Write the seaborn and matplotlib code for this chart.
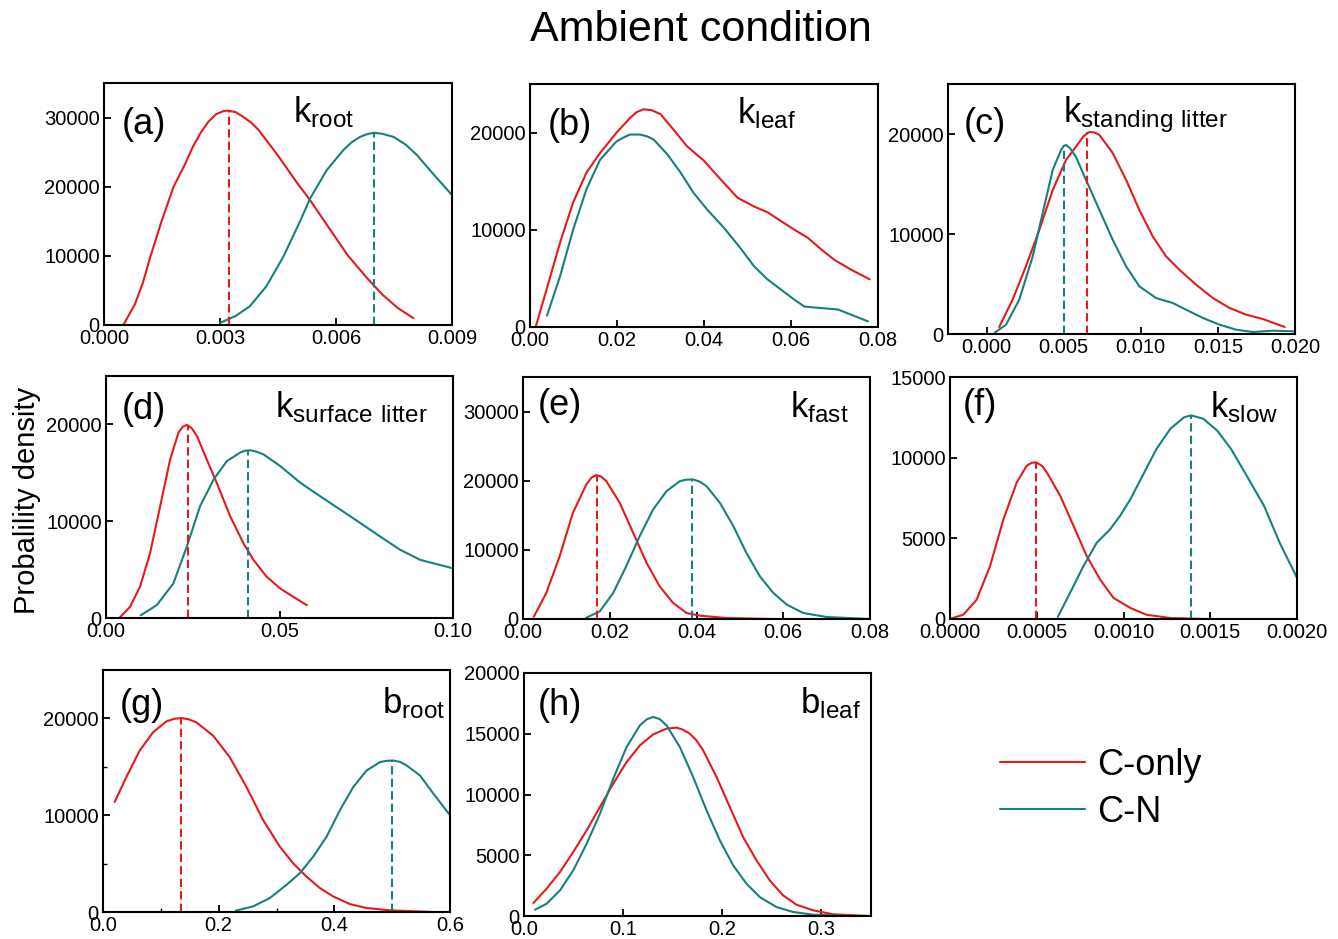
import numpy as np
import pandas as pd
import matplotlib
matplotlib.use('Agg')
import matplotlib.pyplot as plt
from matplotlib.ticker import FixedLocator, StrMethodFormatter
import seaborn as sns

# Curves: C-only (red) and C-N (teal)
a_conly_x = [0.0005, 0.0007, 0.0008, 0.0010, 0.0012, 0.0015, 0.0018, 0.0021, 0.0023, 0.0025, 0.0027,
             0.0029, 0.0031, 0.0032, 0.0034, 0.0036, 0.0038, 0.0040, 0.0045, 0.0050, 0.0053, 0.0058,
             0.0063, 0.0068, 0.0072, 0.0076, 0.0080]
a_conly_y = [0, 2000, 3000, 6000, 9900, 15200, 20000, 23300, 25800, 27800, 29400,
             30500, 30950, 31000, 30800, 30100, 29300, 28200, 24500, 20500, 18300, 14200,
             10100, 6800, 4400, 2450, 1000]
a_cn_x = [0.0030, 0.0034, 0.00377, 0.0042, 0.00464, 0.00507, 0.00533, 0.00576, 0.00619, 0.0064,
          0.00662, 0.0068, 0.00699, 0.0072, 0.00749, 0.0078, 0.00809, 0.00852, 0.0090]
a_cn_y = [300, 1300, 2700, 5600, 9900, 15000, 18300, 22400, 25300, 26400,
          27200, 27600, 27800, 27650, 27200, 26100, 24600, 21800, 18800]

b_conly_x = [0.0013, 0.0038, 0.0069, 0.0099, 0.0130, 0.0161, 0.0199, 0.0230, 0.0245, 0.0261, 0.0280,
             0.0300, 0.0330, 0.0361, 0.0400, 0.0438, 0.0477, 0.0515, 0.0546, 0.0577, 0.0608, 0.0638,
             0.0669, 0.0700, 0.0738, 0.0781]
b_conly_y = [0, 3850, 8660, 12800, 15900, 17900, 20000, 21500, 22100, 22400, 22300,
             21900, 20300, 18600, 17100, 15200, 13300, 12400, 11800, 10900, 10000, 9200,
             8000, 6900, 5900, 4900]
b_cn_x = [0.0039, 0.0069, 0.0099, 0.0130, 0.0161, 0.0199, 0.0215, 0.0230, 0.0253, 0.0270, 0.0284,
          0.0315, 0.0346, 0.0376, 0.0407, 0.0446, 0.0484, 0.0515, 0.0546, 0.0577, 0.0608, 0.0631,
          0.0669, 0.0708, 0.0738, 0.0777]
b_cn_y = [1170, 5200, 10000, 14200, 17200, 19100, 19500, 19800, 19800, 19600, 19300,
          17800, 15900, 13800, 12100, 10200, 8100, 6250, 4900, 3850, 2800, 2100,
          1950, 1800, 1270, 580]

c_conly_x = [0.00082, 0.00169, 0.00255, 0.00342, 0.00429, 0.00515, 0.00602, 0.0063, 0.00667, 0.0070,
             0.00732, 0.00818, 0.00905, 0.00991, 0.01078, 0.01165, 0.01251, 0.01359, 0.01468, 0.01576,
             0.01684, 0.01792, 0.01933]
c_conly_y = [700, 3430, 6760, 10400, 14400, 17400, 19200, 19800, 20200, 20150,
             19900, 18100, 15400, 12400, 9750, 7750, 6420, 4930, 3590, 2600,
             1930, 1500, 700]
c_cn_x = [0.0005, 0.00126, 0.00212, 0.00299, 0.00364, 0.00429, 0.00483, 0.0050, 0.00515, 0.0054,
          0.0058, 0.00645, 0.00732, 0.00818, 0.00905, 0.00991, 0.0110, 0.01208, 0.01294, 0.01403,
          0.01511, 0.01619, 0.01727, 0.01857, 0.0200]
c_cn_y = [100, 930, 3430, 7750, 12100, 16400, 18400, 18800, 18900, 18600,
          17700, 15400, 12400, 9420, 6760, 4760, 3590, 3100, 2430, 1600,
          930, 430, 200, 330, 270]

d_conly_x = [0.00385, 0.0069, 0.0098, 0.0127, 0.0156, 0.0185, 0.0209, 0.0221, 0.0233, 0.0247, 0.0262,
             0.0290, 0.0319, 0.0358, 0.0396, 0.0425, 0.0463, 0.0502, 0.0540, 0.0579]
d_conly_y = [0, 1140, 3220, 6690, 11540, 16400, 19170, 19750, 19960, 19600, 18820,
             16400, 13970, 10500, 7730, 6000, 4260, 3050, 2180, 1320]
d_cn_x = [0.0100, 0.0146, 0.0194, 0.0233, 0.0271, 0.0310, 0.0348, 0.0387, 0.0400, 0.0415, 0.0432,
          0.0454, 0.0502, 0.0560, 0.0617, 0.0675, 0.0733, 0.0790, 0.0848, 0.0906, 0.1000]
d_cn_y = [280, 1320, 3570, 7380, 11540, 14300, 16200, 17100, 17280, 17330, 17200,
          16900, 15700, 13970, 12580, 11200, 9810, 8420, 7040, 6000, 5130]

e_conly_x = [0.00246, 0.00538, 0.00846, 0.0115, 0.0146, 0.0158, 0.0169, 0.0180, 0.0192, 0.0223,
             0.0254, 0.0285, 0.0315, 0.0346, 0.0377, 0.0408, 0.0469, 0.0577]
e_conly_y = [290, 3770, 9080, 15360, 19460, 20450, 20820, 20600, 19950, 16800,
             12460, 8110, 4730, 2320, 870, 480, 140, 0]
e_cn_x = [0.01446, 0.0177, 0.0208, 0.0238, 0.0269, 0.0300, 0.0331, 0.0362, 0.0377, 0.0392, 0.0408,
          0.0423, 0.0454, 0.0485, 0.0515, 0.0546, 0.0577, 0.0608, 0.0646, 0.0700, 0.0800]
e_cn_y = [140, 1110, 3770, 7630, 11980, 15840, 18500, 19950, 20150, 20190, 19850,
          19220, 16800, 13430, 9560, 6180, 3770, 2080, 870, 290, 0]

f_conly_x = [0.00001, 0.000077, 0.000154, 0.000231, 0.000308, 0.000385, 0.000442, 0.00047, 0.000496,
             0.00053, 0.000558, 0.000635, 0.000712, 0.000788, 0.000865, 0.000942, 0.00104, 0.00113,
             0.00127, 0.00147]
f_conly_y = [40, 270, 1200, 3280, 6180, 8470, 9500, 9680, 9710,
             9500, 9090, 7640, 5770, 3900, 2450, 1310, 680, 270,
             60, 0]
f_cn_x = [0.000621, 0.000692, 0.000769, 0.000846, 0.000923, 0.00098, 0.00104, 0.00112, 0.00119,
          0.00127, 0.00135, 0.00139, 0.00146, 0.00154, 0.00162, 0.00171, 0.00181, 0.0019, 0.0020]
f_cn_y = [120, 1620, 3280, 4730, 5560, 6390, 7430, 9090, 10540,
          11790, 12510, 12620, 12410, 11680, 10540, 8880, 7010, 4730, 2550]

g_conly_x = [0.0202, 0.0404, 0.0635, 0.0865, 0.1096, 0.1226, 0.1356, 0.1485, 0.1615, 0.1904, 0.2192,
             0.2481, 0.2769, 0.3058, 0.3288, 0.3519, 0.375, 0.398, 0.4269, 0.4558, 0.4962, 0.5712]
g_conly_y = [11370, 13940, 16680, 18560, 19690, 19950, 20040, 19900, 19590, 18220, 15990,
             12910, 9490, 6750, 5030, 3660, 2470, 1610, 820, 410, 170, 0]
g_cn_x = [0.2296, 0.2596, 0.2885, 0.3173, 0.3404, 0.3635, 0.3865, 0.4096, 0.4327, 0.4558, 0.4788,
          0.4900, 0.5019, 0.5140, 0.525, 0.548, 0.5712, 0.6]
g_cn_y = [140, 580, 1440, 2810, 4010, 5720, 7770, 10510, 12910, 14620, 15480,
          15620, 15650, 15500, 15140, 14110, 12230, 10000]

h_conly_x = [0.0094, 0.0228, 0.0363, 0.0497, 0.0632, 0.0766, 0.0900, 0.1035, 0.1169, 0.1303, 0.1438,
             0.1538, 0.1600, 0.1673, 0.1740, 0.1807, 0.1942, 0.2076, 0.2210, 0.2345, 0.2479, 0.2613,
             0.2748, 0.2916, 0.3117, 0.3487]
h_conly_y = [1070, 2250, 3620, 5270, 7050, 8970, 10890, 12670, 14040, 14950, 15420,
             15500, 15350, 15000, 14450, 13630, 11440, 8970, 6500, 4580, 2930, 1700,
             930, 470, 140, 0]
h_cn_x = [0.0111, 0.0228, 0.0363, 0.0497, 0.0632, 0.0766, 0.0900, 0.1035, 0.1169, 0.1240, 0.1303,
          0.1370, 0.1438, 0.1572, 0.1706, 0.1841, 0.1975, 0.2110, 0.2244, 0.2378, 0.2546, 0.2714,
          0.2916, 0.3252]
h_cn_y = [520, 1010, 2110, 3760, 5950, 8420, 11300, 13910, 15690, 16200, 16380,
          16200, 15690, 13910, 11440, 8700, 6230, 4170, 2660, 1560, 740, 330,
          110, 0]

# modes marked with dashed lines (x, peak height); None = no marker
mode_conly = [(0.00324, 31000), None, (0.0065, 20200), (0.0236, 19960), (0.0171, 20820),
              (0.000496, 9710), (0.1356, 20040), None]
mode_cn = [(0.00699, 27800), None, (0.0050, 18900), (0.0410, 17330), (0.0390, 20190),
           (0.00139, 12620), (0.499, 15650), None]

panel_tags = ['(a)', '(b)', '(c)', '(d)', '(e)', '(f)', '(g)', '(h)']
param_names = [r'$\mathregular{k_{root}}$', r'$\mathregular{k_{leaf}}$',
               r'$\mathregular{k_{standing\ litter}}$', r'$\mathregular{k_{surface\ litter}}$',
               r'$\mathregular{k_{fast}}$', r'$\mathregular{k_{slow}}$',
               r'$\mathregular{b_{root}}$', r'$\mathregular{b_{leaf}}$']
series_names = ['C-only', 'C-N']

curves = [
    (a_conly_x, a_conly_y, a_cn_x, a_cn_y),
    (b_conly_x, b_conly_y, b_cn_x, b_cn_y),
    (c_conly_x, c_conly_y, c_cn_x, c_cn_y),
    (d_conly_x, d_conly_y, d_cn_x, d_cn_y),
    (e_conly_x, e_conly_y, e_cn_x, e_cn_y),
    (f_conly_x, f_conly_y, f_cn_x, f_cn_y),
    (g_conly_x, g_conly_y, g_cn_x, g_cn_y),
    (h_conly_x, h_conly_y, h_cn_x, h_cn_y),
]

# axis settings per panel
xlims = [(0, 0.009), (0, 0.08), (-0.0025, 0.020), (0, 0.1), (0, 0.08), (0, 0.002), (0, 0.6), (0, 0.35)]
xticks = [[0, 0.003, 0.006, 0.009], [0, 0.02, 0.04, 0.06, 0.08], [0, 0.005, 0.01, 0.015, 0.02],
          [0, 0.05, 0.1], [0, 0.02, 0.04, 0.06, 0.08], [0, 0.0005, 0.001, 0.0015, 0.002],
          [0, 0.2, 0.4, 0.6], [0, 0.1, 0.2, 0.3]]
xfmts = ['{x:.3f}', '{x:.2f}', '{x:.3f}', '{x:.2f}', '{x:.2f}', '{x:.4f}', '{x:.1f}', '{x:.1f}']
ylims = [35000, 25000, 25000, 25000, 35000, 15000, 25000, 20000]
yticks = [[0, 10000, 20000, 30000], [0, 10000, 20000], [0, 10000, 20000], [0, 10000, 20000],
          [0, 10000, 20000, 30000], [0, 5000, 10000, 15000], [0, 10000, 20000],
          [0, 5000, 10000, 15000, 20000]]

sns.set_theme(style='ticks')
plt.rcParams['font.family'] = ['Liberation Sans', 'DejaVu Sans']
plt.rcParams['mathtext.fontset'] = 'custom'
plt.rcParams['mathtext.rm'] = 'Liberation Sans'
for key in ['text.color', 'axes.labelcolor', 'xtick.color', 'ytick.color', 'axes.edgecolor']:
    plt.rcParams[key] = 'black'

RED = '#e41a1c'
TEAL = '#17807d'

W, H = 1338, 939
fig = plt.figure(figsize=(W / 100, H / 100), dpi=100)

# axes boxes in pixels: left, top, right, bottom
boxes = [(104, 83, 452, 325), (530, 84, 878, 327), (948, 84, 1295, 334),
         (106, 376, 453, 618), (523, 377, 870, 619), (950, 377, 1297, 619),
         (103, 670, 450, 912), (524, 673, 871, 916)]
tag_pos = [(0.05, 0.83), (0.052, 0.83), (0.046, 0.836), (0.046, 0.86),
           (0.043, 0.884), (0.037, 0.884), (0.049, 0.855), (0.04, 0.868)]
name_pos = [(0.543, 0.839), (0.595, 0.84), (0.331, 0.848), (0.487, 0.83),
            (0.769, 0.835), (0.749, 0.835), (0.804, 0.822), (0.795, 0.835)]

handles = None
for i, (l, t, r, b) in enumerate(boxes):
    ax = fig.add_axes([l / W, 1 - b / H, (r - l) / W, (b - t) / H])
    cx, cy, nx, ny = curves[i]
    df = pd.concat([
        pd.DataFrame({'x': cx, 'y': cy, 'model': series_names[0]}),
        pd.DataFrame({'x': nx, 'y': ny, 'model': series_names[1]}),
    ])
    sns.lineplot(data=df, x='x', y='y', hue='model', palette=[RED, TEAL], estimator=None,
                 sort=False, lw=1.5, ax=ax, legend=(i == 0))
    for mode, col in [(mode_conly[i], RED), (mode_cn[i], TEAL)]:
        if mode is not None:
            ax.vlines(mode[0], 0, mode[1], colors=col, linestyles=(0, (4, 2)), lw=1.5)
    if i == 0:
        handles, labels = ax.get_legend_handles_labels()
        ax.get_legend().remove()

    ax.set_xlim(*xlims[i])
    ax.set_ylim(0, ylims[i])
    ax.xaxis.set_major_locator(FixedLocator(xticks[i]))
    ax.xaxis.set_major_formatter(StrMethodFormatter(xfmts[i]))
    ax.yaxis.set_major_locator(FixedLocator(yticks[i]))
    ax.yaxis.set_major_formatter(StrMethodFormatter('{x:.0f}'))
    if i == 6:
        ax.xaxis.set_minor_locator(FixedLocator([0.1, 0.3, 0.5]))
        ax.yaxis.set_minor_locator(FixedLocator([5000, 15000]))
    ax.tick_params(which='major', direction='in', length=5, width=1.3, labelsize=14.5, pad=3)
    ax.tick_params(which='minor', direction='in', length=3, width=1.0)
    ax.set_xlabel('')
    ax.set_ylabel('')
    for sp in ax.spines.values():
        sp.set_linewidth(1.5)
        sp.set_visible(True)

    ax.text(tag_pos[i][0], tag_pos[i][1], panel_tags[i], transform=ax.transAxes,
            fontsize=26, ha='left', va='center')
    ax.text(name_pos[i][0], name_pos[i][1], param_names[i], transform=ax.transAxes,
            fontsize=25, ha='left', va='baseline')

fig.text(0.524, 1 - 30 / H, 'Ambient condition', fontsize=31, ha='center', va='center')
fig.text(27 / W, 1 - 500 / H, 'Probalility density', fontsize=21, rotation=90,
         ha='center', va='center')

fig.legend(handles, series_names, loc='upper left', bbox_to_anchor=(1000 / W, 1 - 748 / H),
           frameon=False, fontsize=26, handlelength=2.35, handletextpad=0.35,
           labelspacing=0.32, borderpad=0, borderaxespad=0)

fig.savefig('out.png', dpi=100)
